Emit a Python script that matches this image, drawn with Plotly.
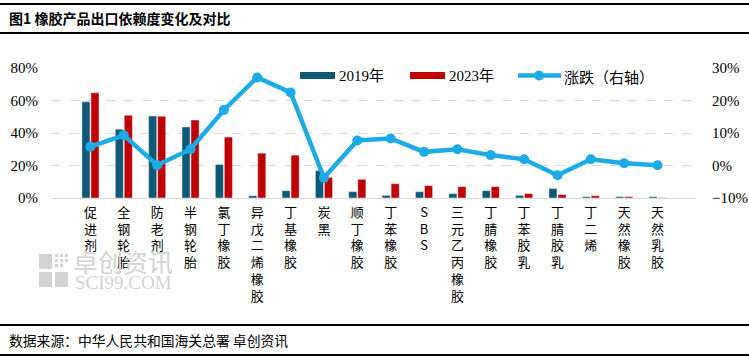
import plotly.graph_objects as go

categories = ["促进剂", "全钢轮胎", "防老剂", "半钢轮胎", "氯丁橡胶", "异戊二烯橡胶", "丁基橡胶", "炭黑",
              "顺丁橡胶", "丁苯橡胶", "SBS", "三元乙丙橡胶", "丁腈橡胶", "丁苯胶乳", "丁腈胶乳", "丁二烯",
              "天然橡胶", "天然乳胶"]
v2019 = [0.592, 0.423, 0.505, 0.437, 0.206, 0.014, 0.045, 0.169, 0.039, 0.016, 0.039, 0.027, 0.045,
         0.016, 0.058, 0.008, 0.008, 0.008]
v2023 = [0.647, 0.509, 0.503, 0.480, 0.375, 0.276, 0.264, 0.127, 0.115, 0.088, 0.076, 0.070, 0.070,
         0.027, 0.021, 0.014, 0.008, 0.002]
change = [0.058, 0.093, 0.001, 0.050, 0.171, 0.271, 0.225, -0.038, 0.077, 0.083, 0.042, 0.050, 0.032,
          0.019, -0.030, 0.019, 0.007, 0.001]

C19 = "#0F5876"
C23 = "#C00000"
CL = "#1DABE6"

ticktext = []
for c in categories:
    if c == "SBS":
        ticktext.append("S<br>B<br>S")
    else:
        ticktext.append("<br>".join(list(c)))

fig = go.Figure()
fig.add_trace(go.Bar(x=categories, y=v2019, name="2019年", marker_color=C19, yaxis="y"))
fig.add_trace(go.Bar(x=categories, y=v2023, name="2023年", marker_color=C23, yaxis="y"))
fig.add_trace(go.Scatter(x=categories, y=change, name="涨跌（右轴）", mode="lines+markers",
                         line=dict(color=CL, width=4.5), marker=dict(color=CL, size=10), yaxis="y2"))

W, H = 749, 358
L, R, T, B = 52, 696, 68, 198


def px(x):
    return (x - L) / (R - L)


def py(y):
    return (B - y) / (B - T)


CJK = "Noto Sans CJK SC"
SERIF = "Liberation Serif"
shapes = []
ann = []

# header / footer rules
for y in (4, 33, 325, 355):
    shapes.append(dict(type="line", xref="paper", yref="paper", x0=px(0), x1=px(749), y0=py(y), y1=py(y),
                       line=dict(color="black", width=2)))
ann.append(dict(text="<b>图1 橡胶产品出口依赖度变化及对比</b>", xref="paper", yref="paper", x=px(7), y=py(18),
                xanchor="left", yanchor="middle", showarrow=False, font=dict(family=CJK, size=14, color="black")))
ann.append(dict(text="数据来源：中华人民共和国海关总署 卓创资讯", xref="paper", yref="paper", x=px(7), y=py(340),
                xanchor="left", yanchor="middle", showarrow=False, font=dict(family=CJK, size=13.8, color="black")))

# legend
shapes.append(dict(type="rect", xref="paper", yref="paper", x0=px(300), x1=px(335), y0=py(72), y1=py(79),
                   fillcolor=C19, line=dict(width=0)))
ann.append(dict(text="2019年", xref="paper", yref="paper", x=px(337), y=py(76), xanchor="left", yanchor="middle",
                showarrow=False, font=dict(family=SERIF + ", " + CJK, size=15, color="black")))
shapes.append(dict(type="rect", xref="paper", yref="paper", x0=px(410), x1=px(445), y0=py(72), y1=py(79),
                   fillcolor=C23, line=dict(width=0)))
ann.append(dict(text="2023年", xref="paper", yref="paper", x=px(447), y=py(76), xanchor="left", yanchor="middle",
                showarrow=False, font=dict(family=SERIF + ", " + CJK, size=15, color="black")))
shapes.append(dict(type="line", xref="paper", yref="paper", x0=px(518), x1=px(561), y0=py(75.5), y1=py(75.5),
                   line=dict(color=CL, width=4.5)))
shapes.append(dict(type="circle", xref="paper", yref="paper", x0=px(534), x1=px(544), y0=py(70.5), y1=py(80.5),
                   fillcolor=CL, line=dict(width=0)))
ann.append(dict(text="涨跌（右轴）", xref="paper", yref="paper", x=px(562), y=py(76), xanchor="left",
                yanchor="middle", showarrow=False, font=dict(family=CJK, size=15, color="black")))

# watermark
WM = "#D3D3D3"
for (x0, y0, x1, y1) in [(39, 254, 52, 269), (39, 272, 52, 287), (55, 272, 68, 287)]:
    shapes.append(dict(type="rect", xref="paper", yref="paper", x0=px(x0), x1=px(x1), y0=py(y0), y1=py(y1),
                       fillcolor=WM, line=dict(width=0), layer="below"))
for (x0, y0) in [(55, 254), (60, 254), (65, 254), (55, 259), (60, 259), (65, 259), (55, 264), (60, 264)]:
    shapes.append(dict(type="rect", xref="paper", yref="paper", x0=px(x0), x1=px(x0 + 3.2), y0=py(y0),
                       y1=py(y0 + 3.2), fillcolor=WM, line=dict(width=0), layer="below"))
ann.append(dict(text="卓创资讯", xref="paper", yref="paper", x=px(71), y=py(261), xanchor="left", yanchor="middle",
                showarrow=False, font=dict(family=CJK, size=25, color=WM)))
ann.append(dict(text="SCI99.COM", xref="paper", yref="paper", x=px(73), y=py(282), xanchor="left",
                yanchor="middle", showarrow=False, font=dict(family=SERIF, size=19, color=WM)))

fig.update_layout(
    width=W, height=H,
    margin=dict(l=L, r=W - R, t=T, b=H - B),
    paper_bgcolor="white", plot_bgcolor="white",
    barmode="group", bargap=0.46, bargroupgap=0.1,
    showlegend=False,
    shapes=shapes, annotations=ann,
    xaxis=dict(tickmode="array", tickvals=categories, ticktext=ticktext, showline=True, linecolor="#D9D9D9",
               linewidth=1, showgrid=False, tickfont=dict(family=CJK, size=13, color="black"), tickangle=0,
               ticks="outside", ticklen=2, tickcolor="rgba(0,0,0,0)", automargin=False),
    yaxis=dict(range=[0, 0.8], dtick=0.2, tickformat=".0%", showgrid=True, gridcolor="#D9D9D9",
               griddash="dash", zeroline=False, showline=False, automargin=False,
               tickfont=dict(family=SERIF, size=15, color="black"), ticks="outside", ticklen=10,
               tickcolor="rgba(0,0,0,0)"),
    yaxis2=dict(range=[-0.1, 0.3], dtick=0.1, tickformat=".0%", overlaying="y", side="right", showgrid=False,
                zeroline=False, showline=False, tickfont=dict(family=SERIF, size=15, color="black"),
                ticks="outside", ticklen=12, tickcolor="rgba(0,0,0,0)", automargin=False),
)

fig.write_html("out.html", config={"displayModeBar": False},
               post_script="document.body.style.margin='0';document.body.style.overflow='hidden';")
